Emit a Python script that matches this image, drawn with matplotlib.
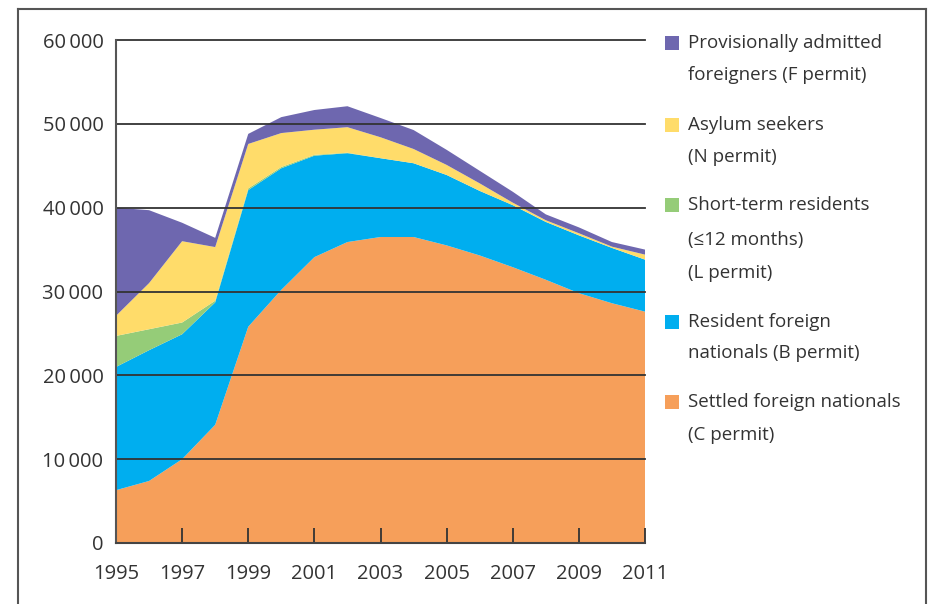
import matplotlib
matplotlib.use("Agg")
import matplotlib.pyplot as plt
from matplotlib.lines import Line2D
from matplotlib.patches import Rectangle
from matplotlib.ticker import FuncFormatter

plt.rcParams['font.family'] = ['Open Sans', 'DejaVu Sans']

years = list(range(1995, 2012))
c_permit = [6300, 7400, 10000, 14100, 25800, 30200, 34100, 35900, 36500, 36500, 35500, 34300, 32900, 31400, 29800, 28600, 27600]
b_permit = [14700, 15600, 14900, 14600, 16300, 14500, 12100, 10600, 9400, 8800, 8400, 7700, 7400, 6900, 6900, 6600, 6200]
l_permit = [3700, 2500, 1400, 200, 200, 150, 100, 50, 0, 0, 0, 0, 0, 0, 0, 0, 0]
n_permit = [2400, 5500, 9700, 6400, 5300, 4050, 3000, 3050, 2500, 1700, 1200, 900, 300, 200, 250, 150, 600]
f_permit = [12900, 8700, 2200, 1100, 1200, 1900, 2350, 2500, 2300, 2260, 1800, 1500, 1300, 700, 700, 550, 600]

labels = [
    ["Provisionally admitted", "foreigners (F permit)"],
    ["Asylum seekers", "(N permit)"],
    ["Short-term residents", "(\u226412 months)", "(L permit)"],
    ["Resident foreign", "nationals (B permit)"],
    ["Settled foreign nationals", "(C permit)"],
]
colors = {"F": "#6E67AF", "N": "#FFDC6A", "L": "#95CC78", "B": "#00AEEF", "C": "#F69F5A"}
xticks = [1995, 1997, 1999, 2001, 2003, 2005, 2007, 2009, 2011]
yticks = [0, 10000, 20000, 30000, 40000, 50000, 60000]

W, H = 933, 604
fig = plt.figure(figsize=(W / 100, H / 100), dpi=100)

L, R, T, B = 116, 645, 40, 543
ax = fig.add_axes([L / W, (H - B) / H, (R - L) / W, (B - T) / H])

ax.stackplot(years, c_permit, b_permit, l_permit, n_permit, f_permit,
             colors=[colors["C"], colors["B"], colors["L"], colors["N"], colors["F"]],
             linewidth=0, antialiased=True)

ax.set_xlim(1995, 2011)
ax.set_ylim(0, 60000)

for v in yticks[1:]:
    ax.axhline(v, color="#333333", linewidth=1.3, zorder=5, clip_on=False)

for s in ["top", "right"]:
    ax.spines[s].set_visible(False)
ax.spines["left"].set_color("#555555")
ax.spines["left"].set_linewidth(1.5)
ax.spines["bottom"].set_color("#444444")
ax.spines["bottom"].set_linewidth(1.5)
ax.spines["left"].set_zorder(6)
ax.spines["bottom"].set_zorder(6)

ax.set_xticks(xticks)
ax.set_xticklabels([str(x) for x in xticks])
ax.set_yticks(yticks)
ax.yaxis.set_major_formatter(FuncFormatter(
    lambda v, p: "0" if v == 0 else f"{int(v) // 1000}\u2009000"))
ax.tick_params(axis="x", direction="in", length=11, width=1.3, color="#333333",
               labelsize=14.5, labelcolor="#333333", pad=15)
ax.tick_params(axis="y", length=0, labelsize=14.5, labelcolor="#333333", pad=9)

# outer frame (open at bottom)
frame_kw = dict(color="#555555", linewidth=1.5, transform=fig.transFigure)
fx0, fx1, fy0 = 18 / W, 926 / W, 1 - 9 / H
fig.add_artist(Line2D([fx0, fx0], [fy0, 0], **frame_kw))
fig.add_artist(Line2D([fx0, fx1], [fy0, fy0], **frame_kw))
fig.add_artist(Line2D([fx1, fx1], [fy0, 0], **frame_kw))

# legend
leg_colors = [colors["F"], colors["N"], colors["L"], colors["B"], colors["C"]]
line_y = [[43, 75], [125, 157], [205, 240, 273], [322, 353], [402, 435]]
for col, lines, ys in zip(leg_colors, labels, line_y):
    y0 = ys[0]
    fig.add_artist(Rectangle((665 / W, 1 - (y0 + 7) / H), 14 / W, 14 / H,
                             facecolor=col, edgecolor="none", transform=fig.transFigure))
    for txt, y in zip(lines, ys):
        fig.text(688 / W, 1 - y / H, txt, ha="left", va="center",
                 fontsize=13.5, color="#333333")

fig.savefig("out.png", dpi=100)
